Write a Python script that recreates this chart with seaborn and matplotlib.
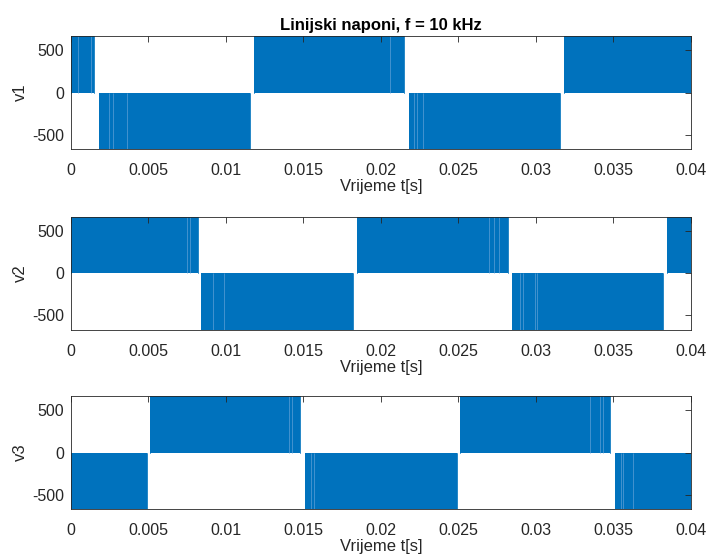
import numpy as np
import pandas as pd
import matplotlib
matplotlib.use("Agg")
import matplotlib.pyplot as plt
import seaborn as sns

# PWM line voltage blocks (start, end of each half-wave burst, sign)
VDC = 670

v1_starts = [0.0, 0.00183, 0.01183, 0.02183, 0.0318]
v1_ends = [0.00152, 0.01155, 0.0215, 0.03155, 0.04]
v1_signs = [1, -1, 1, -1, 1]
v1_gaps = [0.00049, 0.00131, 0.00249, 0.00275, 0.00361, 0.0206, 0.02215, 0.02232, 0.0227]

v2_starts = [0.0, 0.00843, 0.01845, 0.02843, 0.03845]
v2_ends = [0.00822, 0.01819, 0.02817, 0.0382, 0.04]
v2_signs = [1, -1, 1, -1, 1]
v2_gaps = [0.00752, 0.00768, 0.0092, 0.00991, 0.0270, 0.0273, 0.0276,
           0.0290, 0.02916, 0.02995, 0.0301]

v3_starts = [0.0, 0.00512, 0.0151, 0.02512, 0.03512]
v3_ends = [0.0049, 0.0148, 0.0249, 0.0348, 0.04]
v3_signs = [-1, 1, -1, 1, -1]
v3_gaps = [0.0141, 0.0143, 0.01548, 0.01572, 0.0335, 0.0341, 0.0343,
           0.03548, 0.03563, 0.03626]

signals = [
    ("v1", v1_starts, v1_ends, v1_signs, v1_gaps),
    ("v2", v2_starts, v2_ends, v2_signs, v2_gaps),
    ("v3", v3_starts, v3_ends, v3_signs, v3_gaps),
]

xticks = [0, 0.005, 0.01, 0.015, 0.02, 0.025, 0.03, 0.035, 0.04]
xticklabels = ["0", "0.005", "0.01", "0.015", "0.02", "0.025", "0.03", "0.035", "0.04"]
yticks = [-500, 0, 500]

BLUE = "#0072BD"
GAP = "#5c9fd6"
DARK = "#262626"

sns.set_style("white")
plt.rcParams['font.family'] = ['Liberation Sans', 'DejaVu Sans']
plt.rcParams['font.size'] = 11.5


def block_frame(starts, ends, signs):
    rows = []
    for i, (a, b, s) in enumerate(zip(starts, ends, signs)):
        for t, v in [(a, 0), (a, s * VDC), (b, s * VDC), (b, 0)]:
            rows.append({"t": t, "v": v, "block": i})
    return pd.DataFrame(rows)


fig = plt.figure(figsize=(7.08, 5.56), dpi=100)
tops = [0.9353, 0.6103, 0.2878]
height = 0.2035

for (name, starts, ends, signs, gaps), top in zip(signals, tops):
    ax = fig.add_axes([0.0999, top - height, 0.8761, height])
    df = block_frame(starts, ends, signs)
    for _, g in df.groupby("block"):
        ax.fill_between(g["t"], 0, g["v"], color=BLUE, lw=0)
    sns.lineplot(data=df, x="t", y="v", units="block", estimator=None,
                 sort=False, color=BLUE, lw=0.6, ax=ax, legend=False)
    for g in gaps:
        for a, b, s in zip(starts, ends, signs):
            if a <= g <= b:
                ax.vlines(g, 0, s * VDC, color=GAP, lw=0.5)

    ax.set_xlim(0, 0.04)
    ax.set_ylim(-VDC, VDC)
    ax.set_xticks(xticks)
    ax.set_xticklabels(xticklabels)
    ax.set_yticks(yticks)
    ax.set_yticklabels([str(y) for y in yticks])
    ax.set_xlabel("Vrijeme t[s]", fontsize=12, color=DARK, labelpad=1)
    ax.set_ylabel(name, fontsize=12, color=DARK, labelpad=3)
    ax.tick_params(direction="in", length=4.5, width=0.6, colors=DARK,
                   top=True, right=True, labelsize=11.5, pad=5)
    ax.tick_params(axis="x", pad=10)
    for sp in ax.spines.values():
        sp.set_color(DARK)
        sp.set_linewidth(0.6)
    ax.set_axisbelow(False)
    if name == "v1":
        ax.set_title("Linijski naponi, f = 10 kHz", fontsize=12,
                     fontweight="bold", color="black", pad=4)

fig.savefig("out.png", dpi=100)
plt.close(fig)
